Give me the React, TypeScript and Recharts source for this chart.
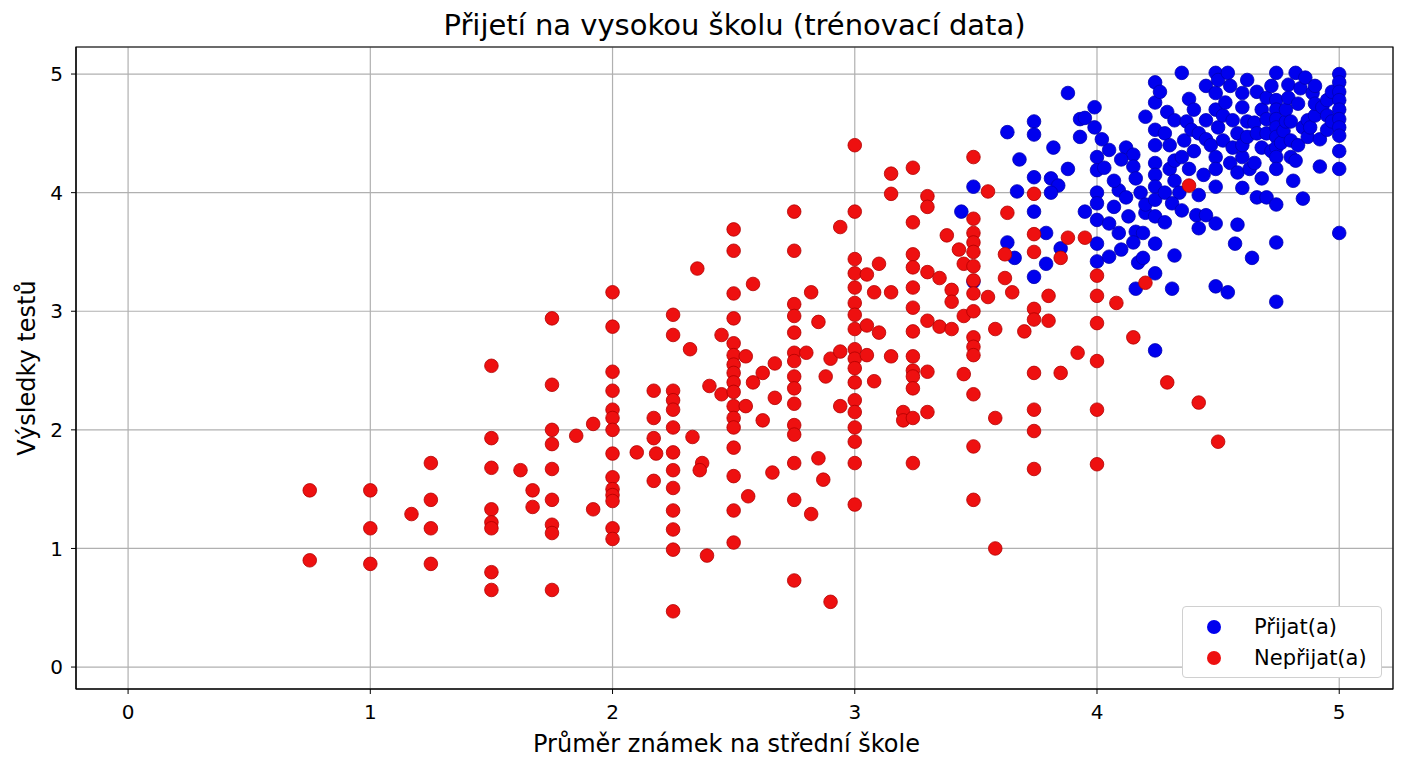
import React from 'react';
import { ScatterChart, Scatter, XAxis, YAxis, CartesianGrid, Legend, ReferenceArea } from 'recharts';

// [průměr známek, výsledek testu]
const admitted: [number, number][] = [
  [3.44, 3.84], [3.49, 4.05], [3.49, 3.25], [3.63, 4.51], [3.63, 3.58], [3.66, 3.45], [3.67, 4.01],
  [3.68, 4.28], [3.74, 4.6], [3.74, 4.49], [3.74, 4.13], [3.74, 3.84], [3.74, 3.29], [3.79, 3.66],
  [3.79, 3.4], [3.81, 4.12], [3.84, 4.06], [3.81, 4.0], [3.82, 4.38], [3.85, 3.53], [3.88, 4.84],
  [3.88, 4.2], [3.93, 4.62], [3.93, 4.47], [3.95, 4.63], [3.99, 4.72], [3.99, 4.55], [4.0, 4.3],
  [4.0, 4.19], [4.03, 4.21], [4.0, 4.0], [4.0, 3.91], [3.95, 3.84], [4.0, 3.77], [4.07, 3.88],
  [4.05, 3.74], [4.09, 3.66], [4.0, 3.57], [4.0, 3.42], [4.05, 3.46], [4.05, 4.36], [4.12, 4.38],
  [4.15, 4.32], [4.15, 4.22], [4.16, 4.12], [4.09, 4.02], [4.12, 3.96], [4.16, 3.67], [4.19, 3.66],
  [4.2, 3.83], [4.15, 3.58], [4.17, 3.41], [4.19, 3.45], [4.16, 3.19], [4.2, 4.64],
  [4.02, 4.45], [4.07, 4.1], [4.1, 4.28], [4.1, 3.52], [4.13, 3.8], [4.18, 4.0], [4.2, 3.9],
  [4.24, 4.93], [4.24, 4.76], [4.24, 4.53], [4.24, 4.4], [4.24, 4.25], [4.24, 4.15], [4.24, 4.05],
  [4.24, 3.94], [4.24, 3.8], [4.24, 3.57], [4.24, 3.32], [4.24, 2.67],
  [4.26, 4.85], [4.28, 4.5], [4.28, 4.0], [4.28, 3.75], [4.3, 4.4], [4.3, 4.2],
  [4.29, 4.68], [4.32, 4.61], [4.32, 4.27], [4.32, 4.1], [4.34, 4.0], [4.31, 3.91], [4.32, 3.47],
  [4.31, 3.19], [4.35, 5.01], [4.35, 4.3], [4.35, 3.85], [4.36, 4.44], [4.37, 4.6], [4.38, 4.79],
  [4.38, 4.2], [4.39, 4.53], [4.4, 4.7], [4.4, 4.35], [4.41, 3.81], [4.42, 3.98], [4.42, 4.5],
  [4.42, 3.7], [4.44, 4.15], [4.45, 4.61], [4.45, 3.81], [4.45, 4.45], [4.45, 4.9], [4.47, 4.4],
  [4.49, 5.01], [4.49, 4.84], [4.49, 4.7], [4.49, 4.3], [4.49, 4.2], [4.49, 4.05], [4.49, 3.74],
  [4.49, 3.21], [4.5, 4.55], [4.5, 4.95], [4.52, 4.44], [4.52, 4.65], [4.53, 4.76], [4.54, 5.01],
  [4.54, 3.16], [4.55, 4.9], [4.56, 4.61], [4.56, 4.38], [4.55, 4.25], [4.57, 3.57], [4.58, 4.17],
  [4.58, 3.73], [4.58, 4.5],
  [4.6, 4.84], [4.6, 4.72], [4.6, 4.3], [4.6, 4.4], [4.6, 4.04], [4.62, 4.47], [4.62, 4.6],
  [4.62, 4.95], [4.63, 4.2], [4.64, 3.45], [4.65, 4.59], [4.65, 4.25], [4.66, 4.85], [4.66, 3.96],
  [4.66, 4.5], [4.68, 4.7], [4.68, 4.38], [4.68, 4.12], [4.7, 3.96], [4.7, 4.5], [4.7, 4.62],
  [4.7, 4.8], [4.72, 4.9], [4.72, 4.35],
  [4.74, 5.01], [4.74, 4.78], [4.74, 4.7], [4.74, 4.62], [4.74, 4.55], [4.74, 4.47], [4.74, 4.38],
  [4.74, 4.3], [4.74, 4.2], [4.74, 3.9], [4.74, 3.58], [4.74, 3.08],
  [4.76, 4.42], [4.77, 4.52], [4.78, 4.6], [4.78, 4.7], [4.79, 4.91], [4.79, 4.8], [4.8, 4.44],
  [4.8, 4.3], [4.8, 4.6], [4.81, 4.1], [4.82, 5.01], [4.82, 4.27], [4.83, 4.75], [4.83, 4.4],
  [4.84, 4.88], [4.85, 4.55], [4.85, 3.95], [4.86, 4.97], [4.87, 4.61], [4.87, 4.47], [4.88, 4.55],
  [4.89, 4.84], [4.9, 4.65], [4.9, 4.75], [4.9, 4.9], [4.92, 4.22], [4.92, 4.45], [4.93, 4.72],
  [4.95, 4.53], [4.95, 4.78], [4.95, 4.65], [4.97, 4.85], [4.97, 4.6],
  [5.0, 5.0], [5.0, 4.93], [5.0, 4.85], [5.0, 4.78], [5.0, 4.7], [5.0, 4.62], [5.0, 4.55],
  [5.0, 4.48], [5.0, 4.35], [5.0, 4.2], [5.0, 3.66],
];

const rejected: [number, number][] = [
  [0.75, 1.49], [0.75, 0.9],
  [1.0, 1.49], [1.0, 1.17], [1.0, 0.87], [1.17, 1.29],
  [1.25, 1.72], [1.25, 1.41], [1.25, 1.17], [1.25, 0.87],
  [1.5, 2.54], [1.5, 1.93], [1.5, 1.68], [1.5, 1.33], [1.5, 1.22], [1.5, 1.17], [1.5, 0.8], [1.5, 0.65],
  [1.62, 1.66], [1.67, 1.49], [1.67, 1.35],
  [1.75, 2.94], [1.75, 2.38], [1.75, 2.0], [1.75, 1.88], [1.75, 1.67], [1.75, 1.41], [1.75, 1.2],
  [1.75, 1.13], [1.75, 0.65],
  [1.85, 1.95], [1.92, 2.05], [1.92, 1.33],
  [2.0, 3.16], [2.0, 2.87], [2.0, 2.49], [2.0, 2.33], [2.0, 2.17], [2.0, 2.1], [2.0, 2.0], [2.0, 1.8],
  [2.0, 1.6], [2.0, 1.5], [2.0, 1.45], [2.0, 1.4], [2.0, 1.17], [2.0, 1.08],
  [2.1, 1.81], [2.17, 2.33], [2.17, 2.1], [2.17, 1.93], [2.17, 1.57], [2.18, 1.8],
  [2.25, 2.97], [2.25, 2.8], [2.25, 2.33], [2.25, 2.25], [2.25, 2.17], [2.25, 2.02], [2.25, 1.81],
  [2.25, 1.66], [2.25, 1.51], [2.25, 1.32], [2.25, 1.16], [2.25, 0.99], [2.25, 0.47],
  [2.32, 2.68], [2.35, 3.36], [2.33, 1.94], [2.4, 2.37], [2.37, 1.72], [2.36, 1.66], [2.39, 0.94],
  [2.45, 2.8], [2.45, 2.3],
  [2.5, 3.69], [2.5, 3.51], [2.5, 3.15], [2.5, 2.94], [2.5, 2.73], [2.5, 2.63], [2.5, 2.55],
  [2.5, 2.48], [2.5, 2.4], [2.5, 2.32], [2.5, 2.2], [2.5, 2.1], [2.5, 2.02], [2.5, 1.85],
  [2.5, 1.61], [2.5, 1.32], [2.5, 1.05],
  [2.55, 2.62], [2.55, 2.2], [2.56, 1.44], [2.58, 3.23], [2.58, 2.4], [2.62, 2.48], [2.62, 2.08],
  [2.67, 2.56], [2.67, 2.27], [2.66, 1.64],
  [2.75, 3.84], [2.75, 3.51], [2.75, 3.06], [2.75, 2.96], [2.75, 2.82], [2.75, 2.65], [2.75, 2.58],
  [2.75, 2.45], [2.75, 2.35], [2.75, 2.22], [2.75, 2.04], [2.75, 1.96], [2.75, 1.72], [2.75, 1.41],
  [2.75, 0.73],
  [2.8, 2.65], [2.82, 3.16], [2.82, 1.29], [2.85, 2.91], [2.85, 1.76], [2.88, 2.45], [2.87, 1.58],
  [2.9, 2.6], [2.9, 0.55], [2.94, 3.71], [2.94, 2.66], [2.94, 2.2],
  [3.0, 4.4], [3.0, 3.84], [3.0, 3.44], [3.0, 3.32], [3.0, 3.2], [3.0, 3.07], [3.0, 2.97],
  [3.0, 2.85], [3.0, 2.68], [3.0, 2.6], [3.0, 2.52], [3.0, 2.4], [3.0, 2.25], [3.0, 2.15],
  [3.0, 2.02], [3.0, 1.9], [3.0, 1.72], [3.0, 1.37],
  [3.05, 3.31], [3.05, 2.88], [3.05, 2.63], [3.08, 3.16], [3.08, 2.41], [3.1, 3.4], [3.1, 2.82],
  [3.15, 4.16], [3.15, 3.99], [3.15, 3.16], [3.15, 2.62], [3.2, 2.15], [3.2, 2.08],
  [3.24, 4.21], [3.24, 3.75], [3.24, 3.48], [3.24, 3.37], [3.24, 3.2], [3.24, 3.03], [3.24, 2.83],
  [3.24, 2.62], [3.24, 2.5], [3.24, 2.45], [3.24, 2.35], [3.24, 2.1], [3.24, 1.72],
  [3.3, 3.97], [3.3, 3.88], [3.3, 3.33], [3.3, 2.92], [3.3, 2.49], [3.3, 2.15],
  [3.35, 3.28], [3.35, 2.87], [3.38, 3.64], [3.4, 3.18], [3.4, 3.08], [3.4, 2.85],
  [3.45, 3.4], [3.45, 2.96], [3.45, 2.47], [3.43, 3.52],
  [3.49, 4.3], [3.49, 3.78], [3.49, 3.66], [3.49, 3.58], [3.49, 3.5], [3.49, 3.38], [3.49, 3.26],
  [3.49, 3.15], [3.49, 3.0], [3.49, 2.78], [3.49, 2.7], [3.49, 2.63], [3.49, 2.3], [3.49, 1.86],
  [3.49, 1.41],
  [3.55, 4.01], [3.55, 3.12], [3.58, 2.85], [3.58, 2.1], [3.58, 1.0], [3.62, 3.48], [3.62, 3.28],
  [3.63, 3.83], [3.65, 3.16], [3.7, 2.83],
  [3.74, 3.99], [3.74, 3.65], [3.74, 3.5], [3.74, 3.02], [3.74, 2.93], [3.74, 2.48], [3.74, 2.17],
  [3.74, 1.99], [3.74, 1.67],
  [3.8, 3.13], [3.8, 2.92], [3.85, 3.45], [3.85, 2.48], [3.88, 3.62], [3.92, 2.65], [3.95, 3.62],
  [4.0, 3.3], [4.0, 3.13], [4.0, 2.9], [4.0, 2.58], [4.0, 2.17], [4.0, 1.71],
  [4.08, 3.07], [4.15, 2.78], [4.2, 3.24], [4.29, 2.4], [4.38, 4.06], [4.42, 2.23], [4.5, 1.9],
];

const TICKS = [0, 1, 2, 3, 4, 5];
const X_DOMAIN: [number, number] = [-0.215, 5.222];
const Y_DOMAIN: [number, number] = [-0.185, 5.228];

const BLUE = '#0000ee';
const RED = '#ee1010';
const FONT = '"DejaVu Sans", sans-serif';

const toRows = (pts: [number, number][]) => pts.map(([x, y]) => ({ x, y }));

const dot = (fill: string, stroke: string) => (props: any) => (
  <circle cx={props.cx} cy={props.cy} r={6.8} fill={fill} stroke={stroke} strokeWidth={0.8} />
);

const legendItems = [
  { label: 'Přijat(a)', color: BLUE },
  { label: 'Nepřijat(a)', color: RED },
];

const renderLegend = () => (
  <div
    style={{
      width: 200,
      height: 72,
      boxSizing: 'border-box',
      background: '#fff',
      border: '1px solid #d0d0d0',
      borderRadius: 4,
      padding: '4px 0 0 0',
      fontFamily: FONT,
      fontSize: 21,
      color: '#000',
    }}
  >
    {legendItems.map((it) => (
      <div key={it.label} style={{ display: 'flex', alignItems: 'center', height: 31 }}>
        <span
          style={{
            display: 'inline-block',
            width: 14,
            height: 14,
            borderRadius: '50%',
            background: it.color,
            marginLeft: 24,
            marginRight: 33,
          }}
        />
        <span>{it.label}</span>
      </div>
    ))}
  </div>
);

export default function App() {
  return (
    <div style={{ position: 'absolute', left: 0, top: 0, width: 1408, height: 768, background: '#fff', fontFamily: FONT }}>
      <div
        style={{
          position: 'absolute',
          top: 8,
          left: 76,
          width: 1317,
          lineHeight: '34px',
          textAlign: 'center',
          fontSize: 29,
          color: '#000',
          zIndex: 1,
        }}
      >
        Přijetí na vysokou školu (trénovací data)
      </div>
      <ScatterChart width={1408} height={768} margin={{ top: 47, right: 15, bottom: 29, left: 16 }}>
        <CartesianGrid stroke="#b0b0b0" strokeWidth={1.2} />
        <XAxis
          type="number"
          dataKey="x"
          domain={X_DOMAIN}
          ticks={TICKS}
          allowDataOverflow
          height={50}
          stroke="#000"
          tickSize={5}
          tickMargin={11}
          tick={{ fill: '#000', fontSize: 20, fontFamily: FONT }}
          label={{
            content: (p: any) => (
              <text
                x={p.viewBox.x + p.viewBox.width / 2 - 8}
                y={744}
                textAnchor="middle"
                dominantBaseline="central"
                fontSize={24}
                fontFamily={FONT}
                fill="#000"
              >
                Průměr známek na střední škole
              </text>
            ),
          }}
        />
        <YAxis
          type="number"
          dataKey="y"
          domain={Y_DOMAIN}
          ticks={TICKS}
          allowDataOverflow
          width={60}
          stroke="#000"
          tickSize={5}
          tickMargin={8}
          tick={{ fill: '#000', fontSize: 20, fontFamily: FONT }}
          label={{
            content: (p: any) => {
              const cy = p.viewBox.y + p.viewBox.height / 2;
              return (
                <text
                  x={27}
                  y={cy}
                  transform={`rotate(-90 27 ${cy})`}
                  textAnchor="middle"
                  dominantBaseline="central"
                  fontSize={24}
                  fontFamily={FONT}
                  fill="#000"
                >
                  Výsledky testů
                </text>
              );
            },
          }}
        />
        <ReferenceArea
          x1={X_DOMAIN[0]}
          x2={X_DOMAIN[1]}
          y1={Y_DOMAIN[0]}
          y2={Y_DOMAIN[1]}
          fill="none"
          stroke="#000"
          strokeWidth={1.2}
          fillOpacity={0}
          ifOverflow="visible"
        />
        <Scatter
          name="Přijat(a)"
          data={toRows(admitted)}
          fill={BLUE}
          shape={dot(BLUE, '#0000b0')}
          isAnimationActive={false}
        />
        <Scatter
          name="Nepřijat(a)"
          data={toRows(rejected)}
          fill={RED}
          shape={dot(RED, '#b00000')}
          isAnimationActive={false}
        />
        <Legend
          layout="vertical"
          align="center"
          verticalAlign="middle"
          content={renderLegend}
          wrapperStyle={{ position: 'absolute', left: 1182, top: 606, width: 200, height: 72 }}
        />
      </ScatterChart>
    </div>
  );
}
